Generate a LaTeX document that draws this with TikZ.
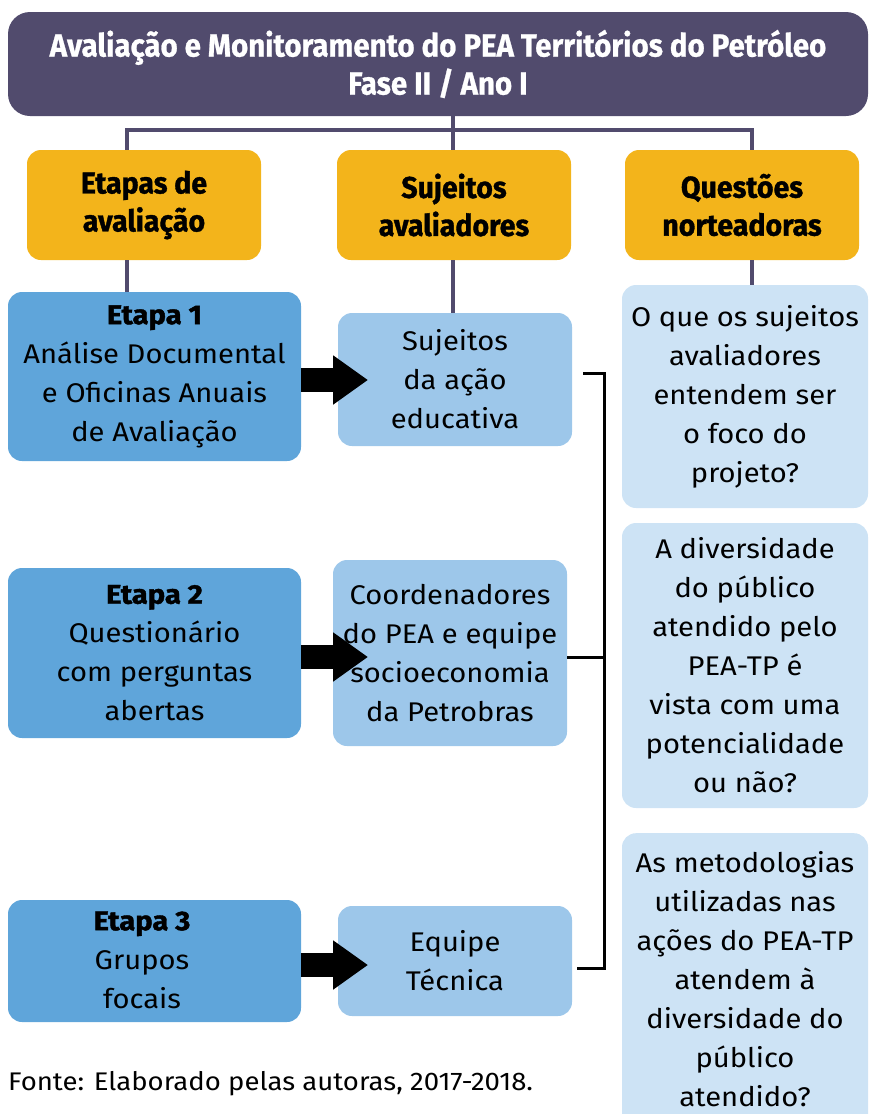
\documentclass[tikz,border=0pt]{standalone}
\usepackage{fontspec}
\setmainfont[FakeStretch=1.08]{Fira Sans}
\newfontfamily\condbold[FakeStretch=0.92,FakeBold=0.8]{Fira Sans Bold}
\newfontfamily\headfont[FakeStretch=0.95,FakeBold=1.2]{Fira Sans Bold}
\newfontfamily\heavy[FakeStretch=1.08,FakeBold=1.5]{Fira Sans Bold}
\usetikzlibrary{arrows.meta}
\definecolor{titlec}{HTML}{514B6D}
\definecolor{yellowc}{HTML}{F3B41B}
\definecolor{etapac}{HTML}{5FA5DA}
\definecolor{sujc}{HTML}{9DC7EA}
\definecolor{questc}{HTML}{CDE3F5}
\begin{document}
\begin{tikzpicture}[x=1pt,y=-1pt,
  box/.style={rounded corners=14pt, inner sep=0pt, align=center, font=\fontsize{27}{39}\selectfont},
  txt/.style={inner sep=0pt, align=center, font=\fontsize{27}{39}\selectfont},
  titlebox/.style={box, fill=titlec, text=white, rounded corners=22pt, minimum width=860pt, minimum height=104pt, font=\condbold\fontsize{32}{38}\selectfont},
  headbox/.style={box, fill=yellowc, minimum width=234pt, minimum height=110pt, font=\headfont\fontsize{30}{38}\selectfont},
  etapabox/.style={box, fill=etapac, minimum width=293pt},
  sujbox/.style={box, fill=sujc, minimum width=234pt},
  questbox/.style={box, fill=questc, minimum width=246pt},
  tree/.style={draw=titlec, line width=4pt},
  bigarrow/.style={draw=black, line width=24pt, -{Triangle[length=35pt,width=47pt]}},
  bracket/.style={draw=black, line width=3pt}
]
\useasboundingbox (0,0) rectangle (870,1114);

\node[titlebox] (title) at (438,64) {Avaliação e Monitoramento do PEA Territórios do Petróleo\\Fase II / Ano I};

\node[headbox] (h1) at (144,205) {Etapas de\\avaliação};
\node[headbox] (h2) at (454,205) {Sujeitos\\avaliadores};
\node[headbox] (h3) at (742,205) {Questões\\norteadoras};

\node[etapabox, minimum height=169pt] (e1) at (154.5,376.5) {{\heavy Etapa 1}\\Análise Documental\\e Oficinas Anuais\\de Avaliação};
\node[etapabox, minimum height=170pt] (e2) at (154.5,653) {{\heavy Etapa 2}\\Questionário\\com perguntas\\abertas};
\node[etapabox, minimum height=122pt] (e3) at (154.5,961) {};
\node[txt] (e3t) at (142,960) {{\heavy Etapa 3}\\Grupos\\focais};

\node[sujbox, minimum height=133pt] (s1) at (455,379.5) {Sujeitos\\da ação\\educativa};
\node[sujbox, minimum height=186pt] (s2) at (450,653) {Coordenadores\\do PEA e equipe\\socioeconomia\\da Petrobras};
\node[sujbox, minimum height=110pt] (s3) at (455,961) {Equipe\\Técnica};

\node[questbox, minimum height=223pt] (q1) at (745,396.5) {O que os sujeitos\\avaliadores\\entendem ser\\o foco do\\projeto?};
\node[questbox, minimum height=285pt] (q2) at (745,665.5) {A diversidade\\do público\\atendido pelo\\PEA-TP é\\vista com uma\\potencialidade\\ou não?};
\node[questbox, minimum height=300pt, anchor=north] (q3) at (745,833) {};
\node[txt] (q3t) at (745,979) {As metodologias\\utilizadas nas\\ações do PEA-TP\\atendem à\\diversidade do\\público\\atendido?};

% tree connectors
\coordinate (j) at (453,130);
\coordinate (c1) at (127,130);
\coordinate (c3) at (752,130);
\draw[tree] (title.south -| j) -- (j);
\draw[tree] (c1 |- h1.north) -- (c1) -- (c3) -- (c3 |- h3.north);
\draw[tree] (j) -- (j |- h2.north);
\draw[tree] (c1 |- h1.south) -- (c1 |- e1.north);
\draw[tree] (j |- h2.south) -- (j |- s1.north);
\draw[tree] (c3 |- h3.south) -- (c3 |- q1.north);

% arrows
\coordinate (a1) at (368,380);
\coordinate (a2) at (368,657);
\coordinate (a3) at (368,965);
\draw[bigarrow] (e1.east |- a1) -- (a1);
\draw[bigarrow] (e2.east |- a2) -- (a2);
\draw[bigarrow] (e3.east |- a3) -- (a3);

% bracket
\coordinate (bt) at (583,373);
\coordinate (bv) at (604,657);
\coordinate (bb) at (577,968);
\draw[bracket] (bt) -| (bv |- bb) -- (bb);
\draw[bracket] (s2.east |- bv) -- (bv);

\node[anchor=west, inner sep=0pt, font=\fontsize{25.5}{30}\selectfont] (src) at (8,1084) {Fonte: Elaborado pelas autoras, 2017-2018.};
\end{tikzpicture}
\end{document}
